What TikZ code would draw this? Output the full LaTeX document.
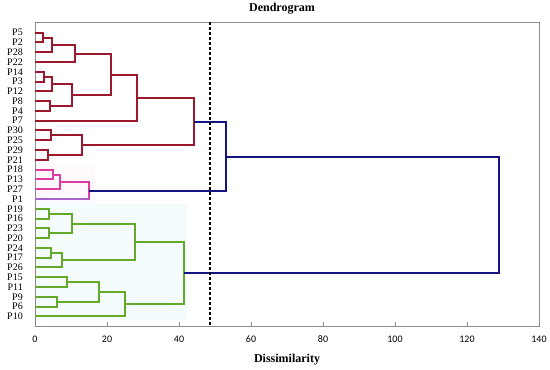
\documentclass[tikz,border=0pt]{standalone}
\usepackage{fontspec}
\setmainfont{Liberation Serif}
\newfontfamily\tickfont{Carlito}
\usetikzlibrary{calc}
\definecolor{dred}{RGB}{155,25,45}
\definecolor{dpink}{RGB}{222,60,160}
\definecolor{dpurple}{RGB}{165,100,200}
\definecolor{dgreen}{RGB}{100,170,40}
\definecolor{dblue}{RGB}{20,20,130}
\definecolor{framegray}{RGB}{140,140,140}
\newcommand\mrg[5]{%
  \path let \p1=(#2), \p2=(#3) in coordinate (#1) at ({round(35+3.6*#4)*1pt},{round(0.5*(\y1+\y2))*1pt});
  \draw[link,#5] (#2) -| (#1) |- (#3);}
\begin{document}
\begin{tikzpicture}[x=1pt,y=-1pt,
  link/.style={line width=1.6pt},
  leaflab/.style={anchor=east,inner sep=0pt,font=\fontsize{10}{10}\selectfont},
  ticklab/.style={inner sep=0pt,font=\tickfont\fontsize{10}{10}\selectfont},
  framestyle/.style={draw=framegray,line width=1pt},
  cutline/.style={black,line width=2pt,dash pattern=on 3pt off 2pt},
  titlestyle/.style={inner sep=0pt,font=\bfseries\fontsize{12}{12}\selectfont}]
\useasboundingbox (0,0) rectangle (550,370);
% faint shading behind clusters
\fill[dpink!3] (35,164) rectangle (95,204);
\fill[cyan!4] (35,204) rectangle (187,321);
% title
\node[titlestyle] (title) at (282,9) {Dendrogram};
% frame
\draw[framestyle] (35,22) rectangle (539,326);
\foreach \v in {0,20,...,140} {
  \draw[framegray,line width=1pt] ({round(35+3.6*\v)},326) -- ++(0,-4);
  \node[ticklab] (t\v) at ({35+3.6*\v},339) {\v};
}
\node[titlestyle] (xlabel) at (287,360) {Dissimilarity};
% leaves
\foreach \n [count=\i from 0] in {P5,P2,P28,P22,P14,P3,P12,P8,P4,P7,P30,P25,P29,P21,P18,P13,P27,P1,P19,P16,P23,P20,P24,P17,P26,P15,P11,P9,P6,P10} {
  \coordinate (\n) at (35,{round(32.7+9.78*\i)});
  \node[leaflab] (lab\n) at (23,{32.7+9.78*\i}) {\n};
}
% red cluster
\mrg{a1}{P5}{P2}{2.1}{dred}
\mrg{a2}{a1}{P28}{4.6}{dred}
\mrg{a3}{a2}{P22}{11.2}{dred}
\mrg{b1}{P14}{P3}{2.6}{dred}
\mrg{b2}{b1}{P12}{4.6}{dred}
\mrg{b3}{P8}{P4}{4.2}{dred}
\mrg{b4}{b2}{b3}{10.4}{dred}
\mrg{c1}{a3}{b4}{21.0}{dred}
\mrg{c2}{c1}{P7}{28.3}{dred}
\mrg{d1}{P30}{P25}{4.4}{dred}
\mrg{d2}{P29}{P21}{3.5}{dred}
\mrg{d3}{d1}{d2}{13.0}{dred}
\mrg{R}{c2}{d3}{44.2}{dred}
% pink cluster
\mrg{e1}{P18}{P13}{5.1}{dpink}
\mrg{e2}{e1}{P27}{6.9}{dpink}
\mrg{K}{e2}{P1}{15.0}{dpink}
\draw[link,dpurple] (P1) -- (P1 -| K);
% green cluster
\mrg{f1}{P19}{P16}{3.9}{dgreen}
\mrg{f2}{P23}{P20}{3.9}{dgreen}
\mrg{f3}{f1}{f2}{10.2}{dgreen}
\mrg{g1}{P24}{P17}{4.4}{dgreen}
\mrg{g2}{g1}{P26}{7.6}{dgreen}
\mrg{G1}{f3}{g2}{27.7}{dgreen}
\mrg{h1}{P15}{P11}{8.8}{dgreen}
\mrg{h2}{P9}{P6}{6.2}{dgreen}
\mrg{h3}{h1}{h2}{17.8}{dgreen}
\mrg{h4}{h3}{P10}{25.1}{dgreen}
\mrg{G}{G1}{h4}{41.4}{dgreen}
% blue links
\mrg{B}{R}{K}{53.0}{dblue}
\mrg{T}{B}{G}{129.0}{dblue}
% cut line
\coordinate (cutT) at (210,22);
\coordinate (cutB) at (210,326);
\draw[cutline] (cutT) -- (cutB);
\end{tikzpicture}
\end{document}
